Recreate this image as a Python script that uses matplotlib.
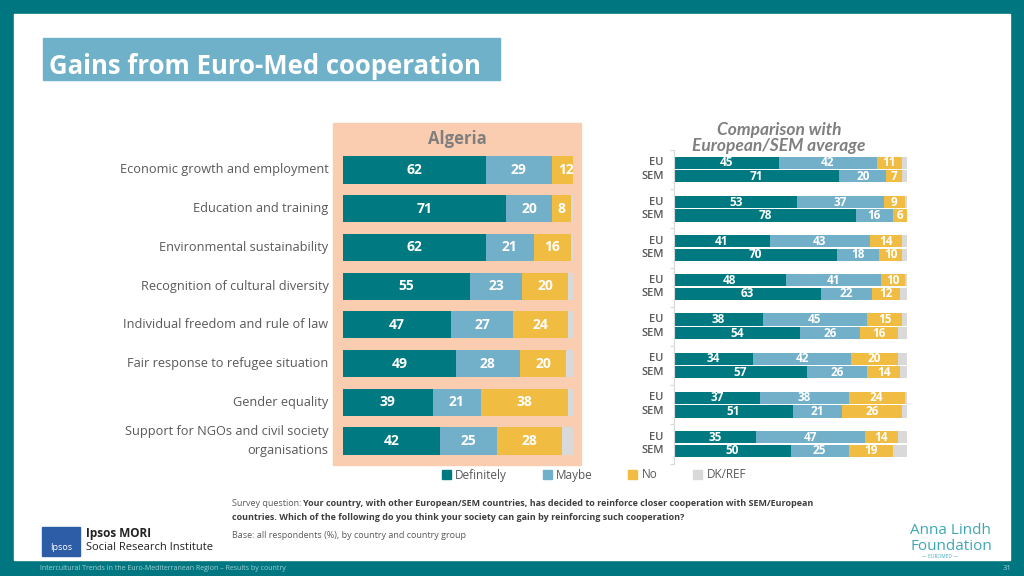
import matplotlib
matplotlib.use('Agg')
import matplotlib.pyplot as plt
from matplotlib.patches import Rectangle, Patch
import numpy as np

# *************************************************************************
# Data

categories = ['Economic growth and employment', 'Education and training',
              'Environmental sustainability', 'Recognition of cultural diversity',
              'Individual freedom and rule of law', 'Fair response to refugee situation',
              'Gender equality', 'Support for NGOs and civil society\norganisations']

alg_def = [62, 71, 62, 55, 47, 49, 39, 42]
alg_may = [29, 20, 21, 23, 27, 28, 21, 25]
alg_no = [12, 8, 16, 20, 24, 20, 38, 28]
alg_dk = [0, 1, 1, 2, 2, 3, 2, 5]

eu_def = [45, 53, 41, 48, 38, 34, 37, 35]
eu_may = [42, 37, 43, 41, 45, 42, 38, 47]
eu_no = [11, 9, 14, 10, 15, 20, 24, 14]
eu_dk = [2, 1, 2, 1, 2, 4, 1, 4]

sem_def = [71, 78, 70, 63, 54, 57, 51, 50]
sem_may = [20, 16, 18, 22, 26, 26, 21, 25]
sem_no = [7, 6, 10, 12, 16, 14, 26, 19]
sem_dk = [2, 1, 2, 3, 4, 3, 2, 6]

series_names = ['Definitely', 'Maybe', 'No', 'DK/REF']
colors = ['#007A80', '#72AFC9', '#F0BC42', '#D9D9D9']

TEAL = '#007681'
GREY = '#595959'
W, H = 1024, 576

plt.rcParams['font.family'] = ['Open Sans', 'DejaVu Sans']

fig = plt.figure(figsize=(W / 100, H / 100), dpi=100)
fig.patch.set_facecolor(TEAL)


def fx(x):
    return x / W


def fy(y):
    return 1 - y / H


def px_axes(x0, y0, x1, y1):
    ax = fig.add_axes([fx(x0), fy(y1), (x1 - x0) / W, (y1 - y0) / H])
    ax.set_zorder(5)
    return ax


# white slide area
fig.patches.append(Rectangle((fx(14), fy(560)), fx(996), (560 - 14) / H,
                             transform=fig.transFigure, color='white', zorder=-2))

# title box
fig.patches.append(Rectangle((fx(43), fy(80)), fx(457), 42 / H,
                             transform=fig.transFigure, color='#70B1CA', zorder=-1))
fig.text(fx(49), fy(67), 'Gains from Euro-Med cooperation', color='white',
         fontsize=18.5, fontweight='bold', va='center', ha='left')

# peach panel behind Algeria
fig.patches.append(Rectangle((fx(333), fy(465)), fx(248), (465 - 123) / H,
                             transform=fig.transFigure, color='#FBCDB0', zorder=-1))
fig.text(fx(457), fy(139), 'Algeria', color='#7F7F7F', fontsize=12,
         fontweight='bold', ha='center', va='center')

fig.text(fx(779), fy(130), 'Comparison with', color='#7F7F7F', fontsize=12.5,
         fontweight='bold', style='italic', ha='center', va='center',
         family='Lato')
fig.text(fx(779), fy(146), 'European/SEM average', color='#7F7F7F', fontsize=12.5,
         fontweight='bold', style='italic', ha='center', va='center',
         family='Lato')


def stacked(ax, ypos, parts, height, fsize):
    left = np.zeros(len(ypos))
    for k, vals in enumerate(parts):
        vals = np.array(vals, dtype=float)
        ax.barh(ypos, vals, left=left, height=height, color=colors[k], zorder=2)
        if k < 3:
            for y, l, v in zip(ypos, left, vals):
                ax.text(l + v / 2, y, f'{int(v)}', color='white', fontsize=fsize,
                        fontweight='bold', ha='center', va='center', zorder=3)
        left += vals


# *************************************************************************
# Left panel: Algeria
n = len(categories)
rows = np.arange(n)

axl = px_axes(343, 150.6, 573, 460.4)
axl.set_facecolor('none')
stacked(axl, rows, [alg_def, alg_may, alg_no, alg_dk], 0.7, 10)
axl.set_xlim(0, 100)
axl.set_ylim(n - 0.5, -0.5)
axl.axis('off')
for i, c in enumerate(categories):
    axl.text(-6.3, i, c, ha='right', va='center', fontsize=9.2, color=GREY,
             linespacing=1.6)

# *************************************************************************
# Right panel: EU / SEM
axr = px_axes(674, 150, 907, 463.5)
axr.set_facecolor('none')
stacked(axr, rows - 0.173, [eu_def, eu_may, eu_no, eu_dk], 0.31, 8.5)
stacked(axr, rows + 0.173, [sem_def, sem_may, sem_no, sem_dk], 0.31, 8.5)
axr.set_xlim(0, 100)
axr.set_ylim(n - 0.5, -0.5)
for s in ['top', 'right', 'bottom']:
    axr.spines[s].set_visible(False)
axr.spines['left'].set_color('#D9D9D9')
axr.set_xticks([])
axr.set_yticks(np.arange(-0.5, n, 1.0))
axr.set_yticklabels([])
axr.tick_params(axis='y', length=3, color='#D9D9D9')
for i in rows:
    axr.text(-4.5, i - 0.173, 'EU', ha='right', va='center', fontsize=8,
             color=GREY, fontweight='semibold')
    axr.text(-4.5, i + 0.173, 'SEM', ha='right', va='center', fontsize=8,
             color=GREY, fontweight='semibold')

# legend
handles = [Patch(color=c) for c in colors]
fig.legend(handles, series_names, loc='center', ncol=4, frameon=False,
           bbox_to_anchor=(fx(594), fy(475)), fontsize=8.5, labelcolor=GREY,
           handlelength=0.75, handleheight=0.75, handletextpad=0.4,
           columnspacing=3.0)

# *************************************************************************
# Footer
fig.text(fx(232), fy(504), 'Survey question: ', fontsize=6.5, color=GREY,
         va='center', ha='left')
fig.text(fx(303), fy(504),
         'Your country, with other European/SEM countries, has decided to reinforce closer cooperation with SEM/European',
         fontsize=6.5, color='#3F3F3F', fontweight='bold', va='center', ha='left')
fig.text(fx(232), fy(517),
         'countries. Which of the following do you think your society can gain by reinforcing such cooperation?',
         fontsize=6.5, color='#3F3F3F', fontweight='bold', va='center', ha='left')
fig.text(fx(232), fy(535), 'Base: all respondents (%), by country and country group',
         fontsize=6.5, color=GREY, va='center', ha='left')

# Ipsos logo
fig.patches.append(Rectangle((fx(42), fy(556)), fx(38), 29 / H,
                             transform=fig.transFigure, color='#2E5DA8', zorder=-1))
fig.text(fx(61), fy(548), 'Ipsos', color='white', fontsize=6.5, ha='center',
         va='center')
fig.text(fx(86), fy(534), 'Ipsos MORI', color='#222222', fontsize=8.5,
         fontweight='bold', va='center')
fig.text(fx(86), fy(548), 'Social Research Institute', color='#222222',
         fontsize=8, va='center')

# Anna Lindh Foundation logo (text)
fig.text(fx(910), fy(531), 'Anna Lindh', color='#3FA7B4', fontsize=11,
         va='center', ha='left')
fig.text(fx(910), fy(546), 'Foundation', color='#3FA7B4', fontsize=11,
         va='center', ha='left')
fig.text(fx(940), fy(557), '— EUROMED —', color='#3FA7B4', fontsize=3.5,
         va='center', ha='center')

# bottom band
fig.text(fx(40), fy(569),
         'Intercultural Trends in the Euro-Mediterranean Region \u2013 Results by country',
         fontsize=5, color='#9FD3D8', va='center', ha='left')
fig.text(fx(1012), fy(569), '31', fontsize=5.5, color='#9FD3D8', va='center',
         ha='right')

fig.savefig('out.png', dpi=100, facecolor=fig.get_facecolor())
